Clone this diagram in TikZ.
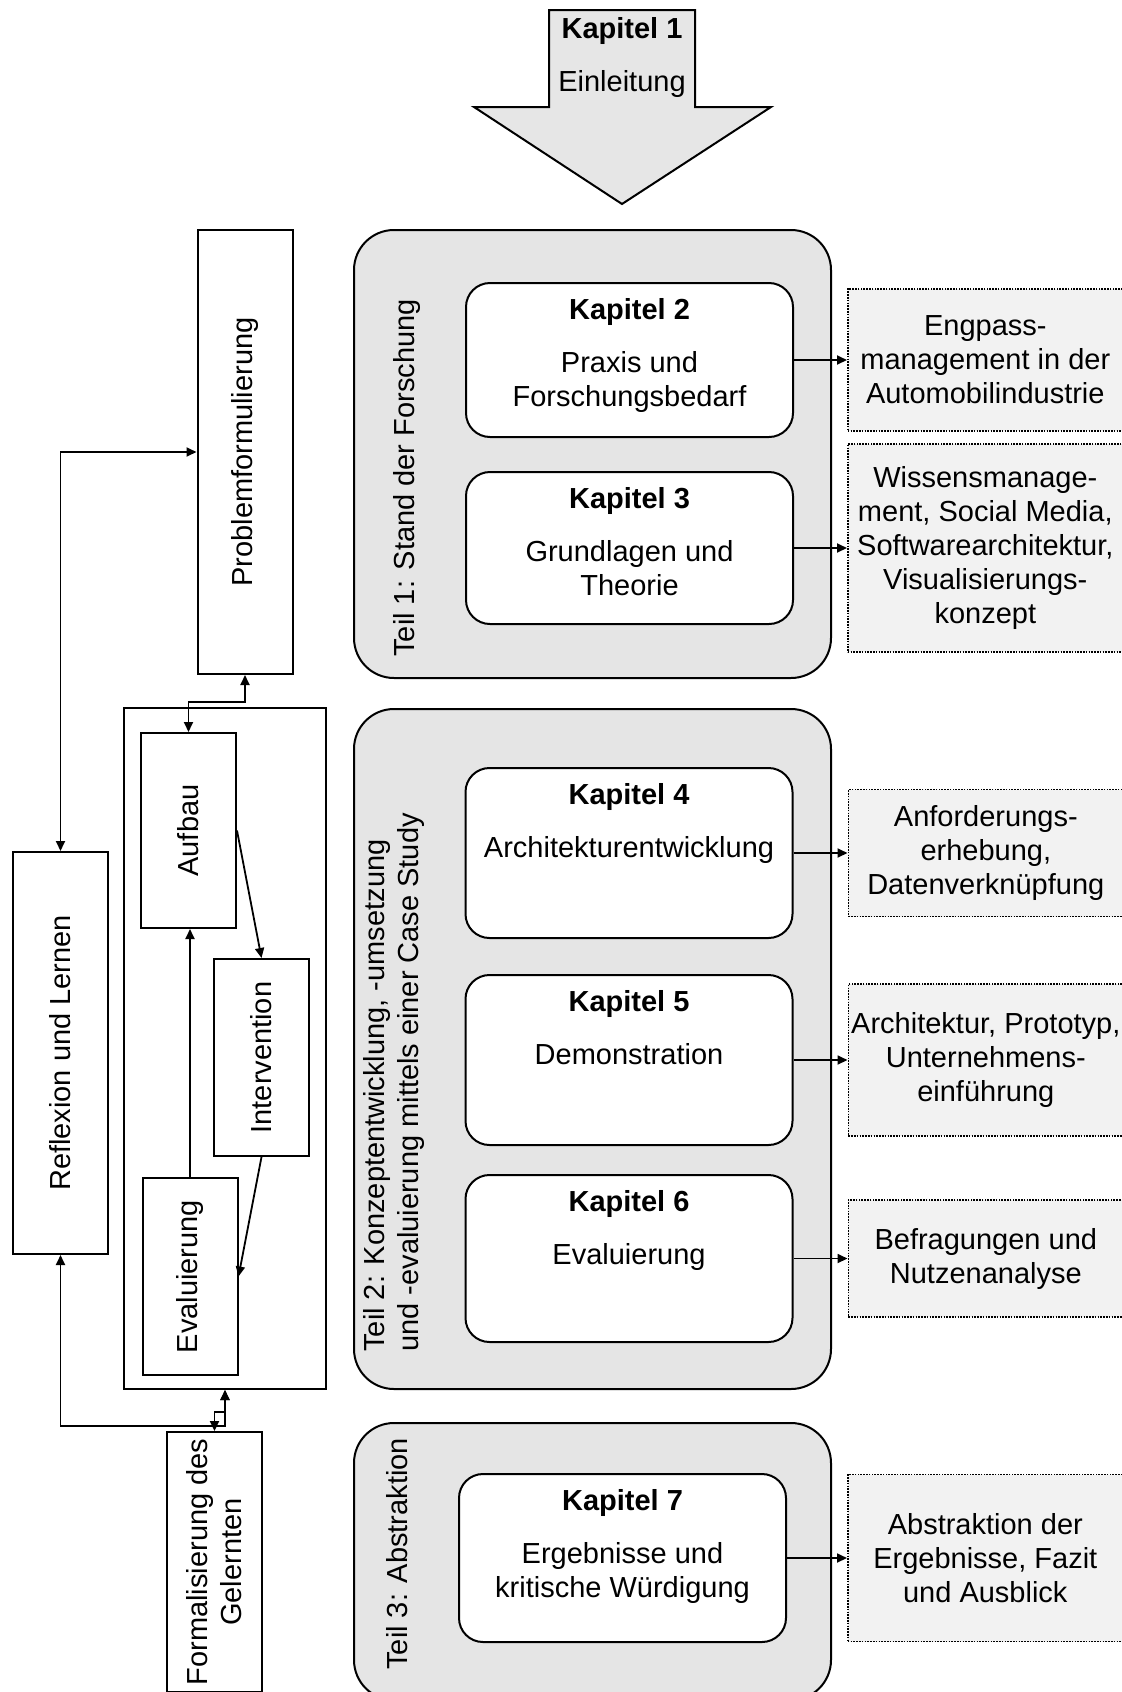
\documentclass[tikz,border=0pt]{standalone}
\usepackage{fontspec}
\setmainfont{Liberation Sans}
\usetikzlibrary{arrows.meta,positioning}
\definecolor{Panel}{HTML}{E5E5E5}
\definecolor{Note}{HTML}{F2F2F2}
\definecolor{Head}{HTML}{E6E6E6}
\tikzset{
 grp/.style={draw,line width=1pt,fill=Panel,rounded corners=20pt,minimum width=238.5pt,inner sep=0pt},
 chap/.style={draw,line width=1pt,fill=white,rounded corners=12pt,minimum width=163.5pt,inner sep=0pt},
 ctext/.style={align=center,inner sep=0pt},
 note/.style={draw,line width=0.8pt,dash pattern=on 0.8pt off 0.6pt,fill=Note,minimum width=137.5pt,align=center,inner sep=0pt},
 sbox/.style={draw,line width=1pt,fill=white,minimum width=47.5pt,inner sep=0pt},
 vtext/.style={rotate=90,align=center,inner sep=0pt},
 arr/.style={-{Triangle[length=5pt,width=4.5pt]},line width=0.9pt},
 biarr/.style={{Triangle[length=5pt,width=4.5pt]}-{Triangle[length=5pt,width=4.5pt]},line width=0.9pt}
}
\begin{document}
\begin{tikzpicture}[x=0.5pt,y=-0.5pt,font=\fontsize{14.5}{17}\selectfont]
\useasboundingbox (0,0) rectangle (1121,1692);
\draw[line width=1pt,fill=Head] (549,10) -- (695,10) -- (695,107) -- (771,107) -- (622,204) -- (474,107) -- (549,107) -- cycle;
\node[inner sep=0pt] (k1) at (622,31) {\textbf{Kapitel 1}};
\node[inner sep=0pt] (k1t) at (622,84) {Einleitung};
\node[grp,minimum height=224pt] (g1) at (592.5,454) {};
\node[grp,minimum height=340pt] (g2) at (592.5,1049) {};
\node[grp,minimum height=138.5pt] (g3) at (592.5,1561.5) {};
\node[vtext,anchor=west] (g1t) at (407,657) {Teil 1: Stand der Forschung};
\node[vtext,anchor=west,align=left] (g2t) at (394,1352) {Teil 2: Konzeptentwicklung, -umsetzung\\und -evaluierung mittels einer Case Study};
\node[vtext,anchor=west] (g3t) at (397,1670) {Teil 3: Abstraktion};
\node[chap,minimum height=77pt] (k2) at (629.5,360) {};
\node[chap,minimum height=76pt] (k3) at (629.5,548) {};
\node[chap,minimum height=85pt] (k4) at (629,853) {};
\node[chap,minimum height=85pt] (k5) at (629,1060) {};
\node[chap,minimum height=83.5pt] (k6) at (629,1258.5) {};
\node[chap,minimum height=84pt] (k7) at (622.5,1558) {};
\node[ctext,below=7.8pt of k2.north] (k2t) {\textbf{Kapitel 2}\\[9.5pt]Praxis und\\Forschungsbedarf};
\node[ctext,below=7.8pt of k3.north] (k3t) {\textbf{Kapitel 3}\\[9.5pt]Grundlagen und\\Theorie};
\node[ctext,below=7.8pt of k4.north] (k4t) {\textbf{Kapitel 4}\\[9.5pt]Architekturentwicklung};
\node[ctext,below=7.8pt of k5.north] (k5t) {\textbf{Kapitel 5}\\[9.5pt]Demonstration};
\node[ctext,below=7.8pt of k6.north] (k6t) {\textbf{Kapitel 6}\\[9.5pt]Evaluierung};
\node[ctext,below=7.8pt of k7.north] (k7t) {\textbf{Kapitel 7}\\[9.5pt]Ergebnisse und\\kritische Würdigung};
\node[note,minimum height=71pt,right=26.5pt of k2] (d2) {Engpass-\\management in der\\Automobilindustrie};
\node[note,minimum height=104pt,right=26.5pt of k3] (d3) {Wissensmanage-\\ment, Social Media,\\Softwarearchitektur,\\Visualisierungs-\\konzept};
\node[note,minimum height=63.5pt,right=27pt of k4] (d4) {Anforderungs-\\erhebung,\\Datenverknüpfung};
\node[note,minimum height=76pt,right=27pt of k5] (d5) {Architektur, Prototyp,\\Unternehmens-\\einführung};
\node[note,minimum height=58.5pt,right=27pt of k6] (d6) {Befragungen und\\Nutzenanalyse};
\node[note,minimum height=83.5pt,right=30pt of k7] (d7) {Abstraktion der\\Ergebnisse, Fazit\\und Ausblick};
\foreach \x/\y in {k2/d2,k3/d3,k4/d4,k5/d5,k6/d6,k7/d7} \draw[arr] (\x)--(\y);
\node[sbox,minimum height=222pt] (prob) at (245,452) {};
\node[sbox,minimum height=201pt] (refl) at (60.5,1053) {};
\node[draw,line width=1pt,minimum width=101pt,minimum height=340.5pt,inner sep=0pt] (cyc) at (225,1048.5) {};
\node[sbox,minimum height=97.5pt] (aufb) at (188.5,830.5) {};
\node[sbox,minimum height=98.5pt] (intv) at (261.5,1057.5) {};
\node[sbox,minimum height=98.5pt] (eval) at (190,1276.5) {};
\node[sbox,minimum height=130pt] (form) at (214.5,1562) {};
\node[vtext] (probt) at (prob) {Problemformulierung};
\node[vtext] (reflt) at (refl) {Reflexion und Lernen};
\node[vtext] (aufbt) at (aufb) {Aufbau};
\node[vtext] (intvt) at (intv) {Intervention};
\node[vtext] (evalt) at (eval) {Evaluierung};
\node[vtext] (formt) at (form) {Formalisierung des\\Gelernten};
\coordinate (pbend) at (0,702);
\coordinate (lbend) at (0,1426);
\draw[biarr] (refl.north) |- (prob.west);
\draw[biarr] (prob.south) -- (prob.south |- pbend) -| (aufb.north);
\draw[arr] (aufb.east) -- (intv.north);
\draw[arr] (eval.north) -- (eval.north |- aufb.south);
\draw[arr] (intv.south) -- (eval.east);
\draw[biarr] (refl.south) |- (lbend -| cyc.south) -- (cyc.south);
\draw[biarr] (cyc.south) -- ++(0,22) -| (form.north);
\end{tikzpicture}
\end{document}
